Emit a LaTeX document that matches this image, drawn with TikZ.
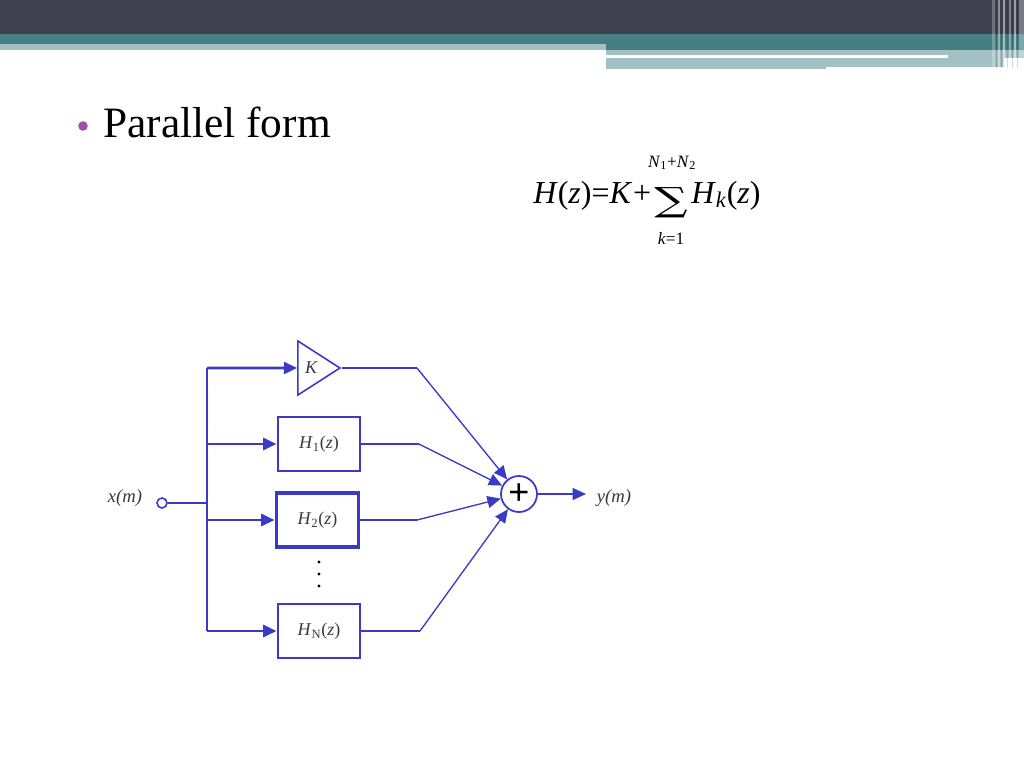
\documentclass[tikz,border=0pt]{standalone}
\usepackage{fontspec}
\setmainfont{Liberation Serif}
\newfontfamily\plusfont{Liberation Sans}
\newfontfamily\sumfont{DejaVu Serif}
\usetikzlibrary{arrows.meta,shapes.geometric}
\definecolor{hdrdark}{HTML}{40414F}
\definecolor{hdrteal}{HTML}{457F84}
\definecolor{hdrlight}{HTML}{A3C1C4}
\definecolor{bulletc}{HTML}{A052AA}
\definecolor{sigblue}{HTML}{3A3AC6}
\definecolor{lbl}{HTML}{3A3A3A}
\begin{document}
\begin{tikzpicture}[x=0.75pt,y=-0.75pt,
  busline/.style={draw=sigblue, line width=2.2pt},
  thinline/.style={draw=sigblue, line width=1pt},
  tipped/.style={-{Triangle[length=10pt,width=9pt]}},
  blockbox/.style={draw=sigblue, line width=1.7pt, minimum width=62pt, minimum height=40.5pt, inner sep=0pt, font=\fontsize{13.5}{16}\selectfont, text=lbl},
  sig/.style={font=\fontsize{14}{16}\selectfont\itshape, text=lbl, inner sep=0pt},
  frm/.style={font=\fontsize{24}{28}\selectfont, text=black, inner sep=0pt},
  lim/.style={font=\fontsize{13}{15}\selectfont, text=black, inner sep=0pt}]
\useasboundingbox (0,0) rectangle (1024,768);
\fill[white] (0,0) rectangle (1024,768);
% header
\fill[hdrdark] (0,0) rectangle (1024,34);
\fill[hdrteal] (0,34) rectangle (1024,44);
\fill[hdrteal] (606,44) rectangle (1024,50);
\fill[hdrlight] (0,44) rectangle (606,50);
\fill[hdrlight] (606,50) rectangle (1024,55);
\fill[hdrlight] (948,55) rectangle (1024,58);
\fill[hdrlight] (606,58) rectangle (826,69);
\fill[hdrlight] (826,58) rectangle (1004,67);
\foreach \xa/\xb/\op in {992/995/0.25,998/1000/0.4,1003/1005/0.5,1009/1011/0.35,1014/1016/0.5,1019/1024/0.3}
  \fill[white,opacity=\op] (\xa,0) rectangle (\xb,68);
\foreach \xa/\xb in {996/997,1001/1002,1007/1008,1012/1013,1017/1018}
  \fill[black,opacity=0.15] (\xa,0) rectangle (\xb,68);
% title
\fill[bulletc] (83,126) circle (3.6pt);
\node[anchor=base west, inner sep=0pt, font=\fontsize{32.5}{38}\selectfont] (title) at (103,137) {Parallel form};
% formula
\node[frm, anchor=base west] (f1) at (533,203) {\textit{H}(\textit{z})=\textit{K}\kern0.5pt+};
\node[inner sep=0pt, font=\fontsize{25}{27}\selectfont\sumfont] (sigma) at (671,203) {\scalebox{1.4}[1]{∑}};
\node[frm, anchor=base west] (f2) at (691,203) {\textit{H}\textsubscript{\textit{k}}(\textit{z})};
\node[lim] (upl) at (672,163) {\textit{N}\textsubscript{1}+\textit{N}\textsubscript{2}};
\node[lim] (lol) at (671,238) {\textit{k}=1};
% diagram nodes
\node[sig] (xlab) at (125,498) {x(m)};
\node[circle, draw=sigblue, line width=1.2pt, fill=white, minimum size=7.5pt, inner sep=0pt] (xin) at (162,503) {};
\coordinate (bx) at (207,503);
\coordinate (b0) at (207,368);
\coordinate (b1) at (207,444);
\coordinate (b2) at (207,520);
\coordinate (bn) at (207,631);
\node[isosceles triangle, isosceles triangle stretches, draw=sigblue, line width=1.2pt, minimum width=40.5pt, minimum height=31.5pt, inner sep=0pt, anchor=apex, font=\fontsize{13.5}{16}\selectfont\itshape, text=lbl] (kgain) at (342,368) {K};
\node[blockbox] (h1) at (319,444) {\textit{H}\textsubscript{1}(\textit{z})};
\node[blockbox, line width=2.4pt] (h2) at (317.5,520) {\textit{H}\textsubscript{2}(\textit{z})};
\node[blockbox] (hn) at (319,631) {\textit{H}\textsubscript{N}(\textit{z})};
\fill (319,562) circle (1.3pt);
\fill (319,574) circle (1.3pt);
\fill (319,586) circle (1.3pt);
\node[circle, draw=sigblue, line width=1.3pt, minimum size=27pt, inner sep=0pt, font=\fontsize{27}{27}\selectfont\plusfont] (sum) at (519,494) {+};
\coordinate (kb) at (417,368);
\coordinate (h1b) at (419,444);
\coordinate (h2b) at (417,520);
\coordinate (hnb) at (420,631);
\coordinate (yt) at (586,494);
\node[sig] (ylab) at (614,498) {y(m)};
% connectors
\draw[thinline, line width=1.3pt] (xin) -- (bx);
\draw[busline] (b0) -- (bn);
\draw[busline, tipped] (b0) -- (kgain);
\draw[busline, tipped] (b1) -- (h1);
\draw[busline, tipped] (b2) -- (h2);
\draw[busline, tipped] (bn) -- (hn);
\draw[busline] (kgain.apex) -- (kb);
\draw[busline] (h1.east) -- (h1b);
\draw[busline] (h2.east) -- (h2b);
\draw[busline] (hn.east) -- (hnb);
\draw[thinline, tipped] (kb) -- (sum);
\draw[thinline, tipped] (h1b) -- (sum);
\draw[thinline, tipped] (h2b) -- (sum);
\draw[thinline, tipped] (hnb) -- (sum);
\draw[thinline, tipped] (sum) -- (yt);
\end{tikzpicture}
\end{document}
